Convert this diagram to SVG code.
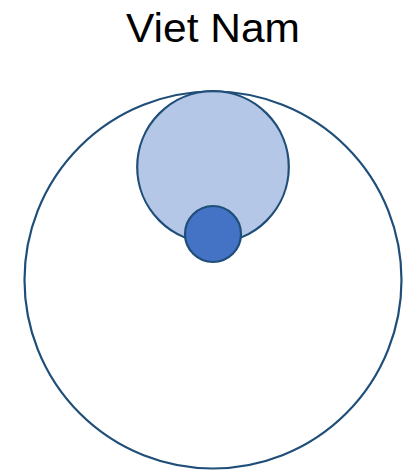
<svg xmlns="http://www.w3.org/2000/svg" width="418" height="474" viewBox="0 0 418 474">
<style>
.c{stroke:#1F4E79;stroke-width:2.2}
.t{font-family:"Liberation Sans",Arial,sans-serif;font-size:41px;fill:#000}
</style>
<rect width="418" height="474" fill="#fff"/>
<text class="t" x="213" y="42" text-anchor="middle" textLength="174" lengthAdjust="spacingAndGlyphs">Viet Nam</text>
<g id="outer"><circle class="c" cx="213" cy="280" r="188.5" fill="#fff"/></g>
<g id="middle"><circle class="c" cx="213" cy="167" r="75.8" fill="#B4C7E7"/></g>
<g id="inner"><circle class="c" cx="213" cy="234" r="28" fill="#4472C4"/></g>
<g id="connectors"/>
</svg>
